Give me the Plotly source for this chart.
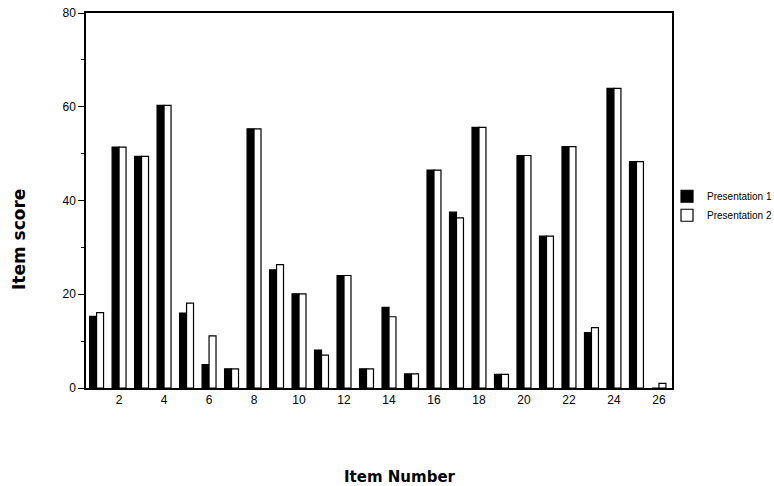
import plotly.graph_objects as go

items = list(range(1, 27))
presentation_1 = [15.3, 51.4, 49.4, 60.3, 16.0, 5.0, 4.1, 55.3, 25.2, 20.1,
                  8.1, 24.0, 4.1, 17.2, 3.0, 46.5, 37.5, 55.6, 2.9, 49.6,
                  32.4, 51.5, 11.8, 63.9, 48.3, 0.0]
presentation_2 = [16.1, 51.4, 49.4, 60.3, 18.1, 11.1, 4.1, 55.3, 26.3, 20.1,
                  7.0, 24.0, 4.1, 15.2, 3.0, 46.5, 36.3, 55.6, 2.9, 49.6,
                  32.4, 51.5, 12.9, 63.9, 48.3, 1.0]
x_tick_vals = list(range(2, 27, 2))
y_tick_vals = [0, 20, 40, 60, 80]
y_minor_vals = [10, 30, 50, 70]

font_family = "Liberation Sans, Arial, sans-serif"
title_family = "DejaVu Sans, Verdana, sans-serif"

W, H = 774, 486
L, T = 86, 13
PW, PH = 586, 375

fig = go.Figure()
fig.add_trace(go.Bar(x=items, y=presentation_1, name="Presentation 1",
                     marker=dict(color="black", line=dict(color="black", width=1.2))))
fig.add_trace(go.Bar(x=items, y=presentation_2, name="Presentation 2",
                     marker=dict(color="white", line=dict(color="black", width=1.2))))

fig.update_layout(
    width=W, height=H,
    margin=dict(l=L, r=W - L - PW, t=T, b=H - T - PH, autoexpand=False),
    paper_bgcolor="white", plot_bgcolor="white",
    barmode="group", bargap=0.38, bargroupgap=0.0,
    font=dict(family=font_family, color="black", size=12),
    showlegend=True,
    legend=dict(x=0.9915, xanchor="left", y=0.55, yanchor="top",
                font=dict(size=10, family=font_family, color="black"),
                bgcolor="rgba(0,0,0,0)", borderwidth=0,
                itemwidth=30, tracegroupgap=0),
    xaxis=dict(range=[0.53, 26.58], tickmode="array", tickvals=x_tick_vals,
               ticks="", showgrid=False, zeroline=False,
               showline=True, linecolor="black", linewidth=1.5, mirror=True,
               tickfont=dict(size=12)),
    yaxis=dict(range=[0, 80], tickmode="array", tickvals=y_tick_vals,
               ticks="outside", ticklen=6, tickwidth=1.2, tickcolor="black",
               showgrid=False, zeroline=False, ticklabeloverflow="allow",
               showline=True, linecolor="black", linewidth=1.5, mirror=True,
               minor=dict(tickvals=y_minor_vals, ticks="outside", ticklen=3,
                          tickcolor="black", tickwidth=1),
               tickfont=dict(size=12)),
    annotations=[
        dict(text="<b>Item score</b>", xref="paper", yref="paper",
             x=(19 - 86) / PW, y=(388 - 240) / PH, textangle=-90,
             xanchor="center", yanchor="middle", showarrow=False,
             font=dict(size=17, family=title_family, color="black")),
        dict(text="<b>Item Number</b>", xref="paper", yref="paper",
             x=(400 - 86) / PW, y=(388 - 477) / PH,
             xanchor="center", yanchor="middle", showarrow=False,
             font=dict(size=15, family=title_family, color="black")),
    ],
)

fig.write_html("out.html", config={"displayModeBar": False},
               post_script="document.body.style.margin='0';document.body.style.overflow='hidden';")
